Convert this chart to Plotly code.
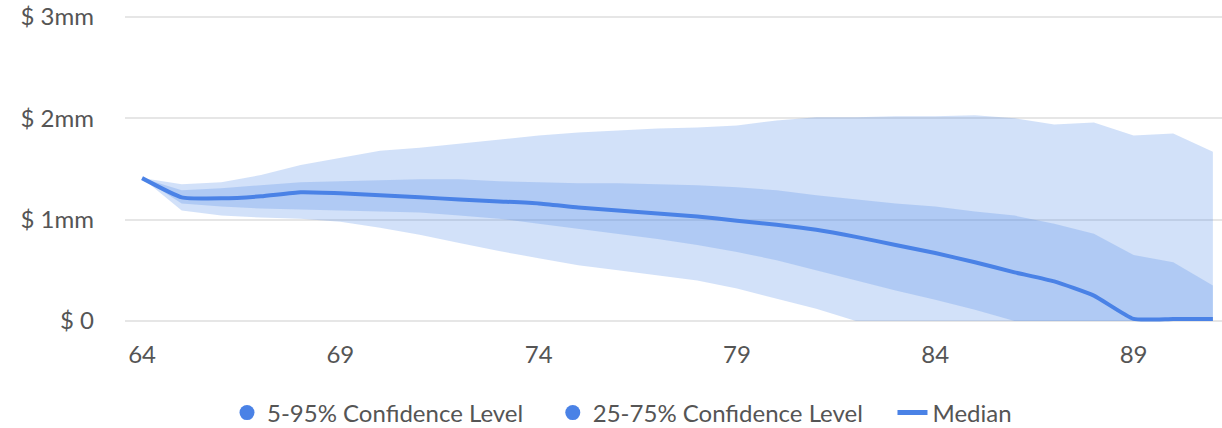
import plotly.graph_objects as go

ages = list(range(64, 92))
median = [1.41, 1.22, 1.21, 1.23, 1.27, 1.26, 1.24, 1.22, 1.20, 1.18, 1.16, 1.12, 1.09, 1.06,
          1.03, 0.99, 0.95, 0.90, 0.83, 0.75, 0.67, 0.58, 0.48, 0.39, 0.25, 0.02, 0.02, 0.02]
p95 = [1.41, 1.35, 1.37, 1.44, 1.54, 1.61, 1.68, 1.71, 1.75, 1.79, 1.83, 1.86, 1.88, 1.90,
       1.91, 1.93, 1.98, 2.01, 2.01, 2.02, 2.02, 2.03, 2.00, 1.94, 1.96, 1.83, 1.85, 1.67]
p5 = [1.41, 1.09, 1.04, 1.02, 1.01, 0.98, 0.92, 0.85, 0.77, 0.69, 0.62, 0.55, 0.50, 0.45,
      0.40, 0.32, 0.22, 0.12, 0.0, 0.0, 0.0, 0.0, 0.0, 0.0, 0.0, 0.0, 0.0, 0.0]
p75 = [1.41, 1.29, 1.31, 1.34, 1.37, 1.38, 1.39, 1.40, 1.40, 1.38, 1.37, 1.36, 1.36, 1.35,
       1.34, 1.32, 1.29, 1.24, 1.20, 1.16, 1.13, 1.08, 1.04, 0.96, 0.86, 0.65, 0.58, 0.35]
p25 = [1.41, 1.16, 1.13, 1.11, 1.10, 1.09, 1.08, 1.07, 1.04, 1.01, 0.96, 0.91, 0.86, 0.81,
       0.75, 0.68, 0.60, 0.50, 0.40, 0.30, 0.21, 0.11, 0.0, 0.0, 0.0, 0.0, 0.0, 0.0]

x_ticks = [64, 69, 74, 79, 84, 89]
y_ticks = [0, 1, 2, 3]
y_labels = ["$ 0", "$ 1mm", "$ 2mm", "$ 3mm"]
legend_names = ["5-95% Confidence Level", "25-75% Confidence Level", "Median"]

BLUE = "#4a82e6"
BAND = "rgba(74,134,232,0.25)"
FONT = "Lato"
PAD = "\u00a0" * 4

fig = go.Figure()
fig.add_trace(go.Scatter(x=ages, y=p5, mode="lines", line=dict(width=0), showlegend=False, hoverinfo="skip"))
fig.add_trace(go.Scatter(x=ages, y=p95, mode="lines", line=dict(width=0), fill="tonexty",
                         fillcolor=BAND, showlegend=False, hoverinfo="skip"))
fig.add_trace(go.Scatter(x=ages, y=p25, mode="lines", line=dict(width=0), showlegend=False, hoverinfo="skip"))
fig.add_trace(go.Scatter(x=ages, y=p75, mode="lines", line=dict(width=0), fill="tonexty",
                         fillcolor=BAND, showlegend=False, hoverinfo="skip"))
fig.add_trace(go.Scatter(x=ages, y=median, mode="lines",
                         line=dict(color=BLUE, width=4, shape="spline", smoothing=0.45),
                         showlegend=False))
# legend entries
fig.add_trace(go.Scatter(x=[None], y=[None], mode="markers", name=legend_names[0] + PAD,
                         marker=dict(symbol="circle", size=15, color=BLUE)))
fig.add_trace(go.Scatter(x=[None], y=[None], mode="markers", name=legend_names[1] + PAD,
                         marker=dict(symbol="circle", size=15, color=BLUE)))
fig.add_trace(go.Scatter(x=[None], y=[None], mode="lines", name=legend_names[2],
                         line=dict(color=BLUE, width=5)))

fig.update_layout(
    width=1222, height=428,
    margin=dict(l=125, r=0, t=12, b=102, autoexpand=False),
    plot_bgcolor="white", paper_bgcolor="white",
    font=dict(family=FONT, size=24, color="#555555"),
    showlegend=True,
    legend=dict(orientation="h", xref="container", yref="container", x=0.509, y=0.035,
                xanchor="center", yanchor="middle", font=dict(size=24, color="#555555"),
                itemwidth=30, traceorder="normal"),
    xaxis=dict(range=[63.57, 91.23], tickmode="array", tickvals=x_ticks,
               ticktext=[str(v) for v in x_ticks], showgrid=False, zeroline=False,
               showline=False, ticks="", ticklabelstandoff=12, ticklabeloverflow="allow"),
    yaxis=dict(range=[-0.05, 3.05], tickmode="array", tickvals=y_ticks, ticktext=y_labels,
               showgrid=True, gridcolor="#e6e6e6", gridwidth=2, zeroline=False,
               showline=False, ticks="", ticklabelstandoff=30, ticklabeloverflow="allow"),
)

fig.write_html("out.html", config={"displayModeBar": False},
               post_script="document.body.style.margin='0';")
